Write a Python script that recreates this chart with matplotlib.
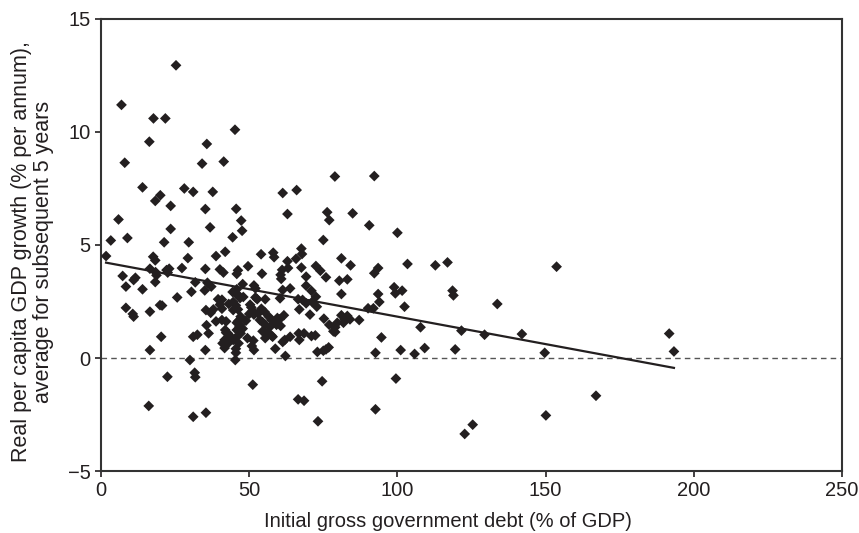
import numpy as np
import matplotlib
matplotlib.use("Agg")
import matplotlib.pyplot as plt

plt.rcParams['font.family'] = ['Liberation Sans', 'DejaVu Sans']

# initial debt (% of GDP), growth over next 5 years (% per annum)
debt = [
    25.3, 6.9, 17.7, 21.7, 45.2, 16.3, 35.7, 8.0, 34.1, 41.4, 78.9, 92.2, 14.0, 28.1, 31.1, 37.7,
    61.3, 66.0, 20.0, 18.3, 23.5, 35.2, 45.6, 5.9, 47.3, 62.9, 76.3, 77.0, 84.9,
    23.5, 36.8, 47.6, 90.5, 100.0, 8.9, 3.3, 44.4, 21.3, 29.6, 75.0, 41.9, 38.8, 1.7, 54.0, 58.1,
    67.6, 67.8, 153.7,
    29.3, 17.6, 18.3, 58.4, 65.8, 62.9, 81.1, 72.5, 67.6, 84.2, 103.4, 112.8, 116.9, 16.5, 18.4,
    18.7, 22.1, 23.0, 22.5, 27.3, 35.2, 40.1, 41.3, 46.2, 45.8, 49.6, 54.3, 63.1, 61.1, 60.6, 60.8,
    69.2, 74.0, 75.9, 93.5, 92.2, 7.3, 11.6, 11.0,
    18.3, 8.4, 14.0, 31.8, 35.9, 30.5, 35.0, 37.2, 47.8, 51.6, 52.1, 25.7, 45.3, 46.2, 46.9, 48.0,
    45.8, 44.4, 39.5, 40.8, 52.1, 52.7, 55.4, 61.3, 60.4, 63.8, 69.2, 71.0, 72.5, 68.0, 66.5, 80.4,
    83.1, 81.1, 93.5, 98.9, 99.3, 101.6, 118.6, 118.9, 44.6,
    8.4, 10.7, 11.0, 16.5, 19.9, 20.6, 35.4, 37.0, 37.9, 40.1, 40.8, 43.1, 44.6, 45.5, 46.2, 50.0,
    51.2, 51.6, 50.7, 53.0, 54.1, 55.2, 50.3, 59.5, 60.2, 61.7, 66.9, 69.2, 70.5, 72.8, 71.2,
    38.8, 42.2, 40.8, 35.6, 45.8, 46.9, 46.4, 47.1, 48.9, 53.6, 54.5, 55.4, 56.6, 57.5, 59.2, 60.6,
    75.2, 77.0, 79.7, 81.1, 82.2, 83.1, 84.0, 81.8, 87.1, 90.1, 91.9, 93.9, 102.4, 133.7,
    36.3, 46.7, 47.8, 41.9, 42.8, 42.4, 43.8, 45.8, 49.4, 57.0, 54.5, 55.7, 57.5, 56.1, 57.9, 55.4,
    51.4, 62.0, 61.3, 63.8, 66.7, 66.9, 68.5, 71.0, 72.3, 31.1, 32.5, 20.3, 45.8, 47.1, 42.2, 44.6,
    43.1, 41.7, 41.0, 46.4, 50.9, 78.4, 79.0, 79.0, 94.6, 107.8, 121.6, 129.4, 142.0, 191.7,
    16.5, 35.2, 51.6, 58.8, 45.5, 45.3, 62.2, 73.0, 75.0, 76.8, 75.9, 41.7, 45.5, 30.0, 31.6, 31.8,
    22.4, 51.2, 16.1, 31.1, 35.4, 66.5, 68.5, 73.2, 74.6, 92.6, 101.1, 105.8, 109.2, 119.5, 149.7,
    193.3, 99.5, 92.6, 122.7, 125.4, 150.1, 167.0,
]
growth = [
    12.95, 11.2, 10.6, 10.6, 10.1, 9.57, 9.47, 8.64, 8.6, 8.69, 8.03, 8.05, 7.55, 7.5, 7.35, 7.35,
    7.3, 7.43, 7.2, 6.95, 6.73, 6.59, 6.6, 6.13, 6.08, 6.37, 6.45, 6.1, 6.4,
    5.71, 5.78, 5.63, 5.87, 5.54, 5.31, 5.2, 5.34, 5.12, 5.12, 5.22, 4.70, 4.51, 4.51, 4.59, 4.66,
    4.84, 4.6, 4.04,
    4.42, 4.48, 4.32, 4.46, 4.39, 4.28, 4.41, 4.07, 4.0, 4.1, 4.16, 4.10, 4.23, 3.95, 3.8,
    3.66, 3.89, 3.95, 3.78, 3.98, 3.94, 3.92, 3.78, 3.88, 3.72, 4.06, 3.73, 3.98, 3.9, 3.68, 3.50,
    3.6, 3.86, 3.57, 3.98, 3.75, 3.63, 3.55, 3.45,
    3.36, 3.16, 3.04, 3.35, 3.33, 2.93, 2.99, 3.16, 3.27, 3.21, 3.08, 2.68, 2.86, 2.80, 2.65, 2.70,
    3.04, 2.92, 2.60, 2.58, 2.68, 2.6, 2.6, 3.01, 2.64, 3.08, 3.2, 2.97, 2.71, 2.57, 2.6, 3.42,
    3.48, 2.83, 2.83, 3.13, 2.86, 2.98, 2.98, 2.77, 2.48,
    2.22, 1.95, 1.83, 2.05, 2.34, 2.32, 2.12, 2.0, 2.15, 2.36, 2.18, 2.39, 2.12, 2.33, 2.15, 1.95,
    2.09, 1.92, 2.24, 1.97, 2.18, 2.04, 2.36, 1.77, 1.71, 1.89, 2.15, 2.42, 1.92, 2.27, 2.48,
    1.62, 1.62, 1.68, 1.45, 1.56, 1.47, 1.65, 1.83, 1.65, 1.68, 1.59, 1.47, 1.83, 1.68, 1.47, 1.42,
    1.74, 1.47, 1.56, 1.89, 1.7, 1.86, 1.71, 1.56, 1.68, 2.2, 2.2, 2.48, 2.27, 2.39,
    1.09, 1.38, 1.30, 1.24, 1.09, 0.85, 0.94, 0.94, 0.88, 1.38, 1.18, 1.09, 1.0, 1.09, 0.94, 0.88,
    0.77, 0.80, 0.71, 0.94, 1.09, 0.80, 1.09, 0.97, 1.0, 0.94, 1.03, 0.94, 1.24, 1.09, 1.12, 0.80,
    0.68, 0.80, 0.65, 0.65, 0.53, 1.18, 1.36, 1.15, 0.91, 1.36, 1.21, 1.03, 1.06, 1.08,
    0.35, 0.35, 0.35, 0.41, 0.23, -0.09, 0.09, 0.27, 0.32, 0.47, 0.38, 0.44, 0.41, -0.09, -0.65, -0.85,
    -0.83, -1.18, -2.12, -2.60, -2.42, -1.83, -1.89, -2.8, -1.03, 0.23, 0.35, 0.18, 0.44, 0.38, 0.23,
    0.29, -0.91, -2.27, -3.36, -2.95, -2.54, -1.67,
]

# fitted trend line
fit_intercept = 4.26
fit_slope = -0.0243

x_ticks = [0, 50, 100, 150, 200, 250]
y_ticks = [-5, 0, 5, 10, 15]

fig = plt.figure(figsize=(8.59, 5.33), dpi=100)
ax = fig.add_axes([0.1176, 0.1163, 0.8626, 0.8481])

ax.axhline(0, color='#555555', lw=1.0, ls=(0, (4, 3)), zorder=1)
ax.scatter(debt, growth, marker='D', s=30, color='#231f20', edgecolors='none', zorder=3)

xs = np.array([min(debt), max(debt)])
ax.plot(xs, fit_intercept + fit_slope * xs, color='#231f20', lw=1.6, zorder=2)

ax.set_xlim(0, 250)
ax.set_ylim(-5, 15)
ax.set_xticks(x_ticks)
ax.set_yticks(y_ticks)
ax.tick_params(labelsize=14.5, colors='#231f20', length=4, width=1.2, direction='out')
for s in ax.spines.values():
    s.set_color('#333333')
    s.set_linewidth(1.5)

ax.set_xlabel('Initial gross government debt (% of GDP)', fontsize=14.5, color='#231f20')
ax.xaxis.set_label_coords(0.468, -0.09)
ax.set_ylabel('Real per capita GDP growth (% per annum),\naverage for subsequent 5 years',
              fontsize=15.5, color='#231f20', linespacing=1.05)
ax.yaxis.set_label_coords(-0.064, 0.485)

fig.savefig('out.png', dpi=100)
